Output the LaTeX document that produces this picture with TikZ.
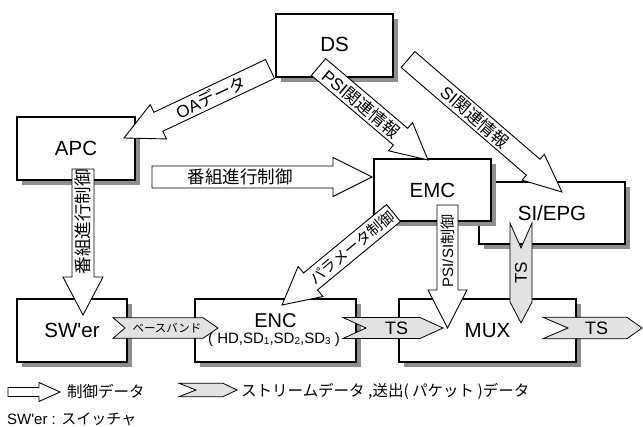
\documentclass[tikz,border=0pt]{standalone}
\usepackage{fontspec}
\setmainfont{Liberation Sans}[Ligatures=TeXOff]
\newfontfamily\jp{Noto Sans CJK JP}
\usetikzlibrary{calc,shadows}
\definecolor{shadowgray}{HTML}{8E8E8E}
\definecolor{streamgray}{HTML}{E2E2E2}
\newcommand\fs[1]{\fontsize{#1}{#1}\selectfont}
% block (hollow) arrow: tail, tip, shaft half, head half, head length
\newcommand\blockarr[5]{%
  \coordinate (hb) at ($(#2)!#5!(#1)$);
  \draw[ctrl] ($(#1)!#3!90:(#2)$) -- ($(hb)!#3!90:(#2)$) -- ($(hb)!#4!90:(#2)$) -- (#2)
    -- ($(hb)!#4!-90:(#2)$) -- ($(hb)!#3!-90:(#2)$) -- ($(#1)!#3!-90:(#2)$) -- cycle;}
% horizontal stream arrow: y, half height, tail x, notch x, head x, tip x
\newcommand\strmH[6]{%
  \draw[strm] (#3,#1-#2) -- (#5,#1-#2) -- (#6,#1) -- (#5,#1+#2) -- (#3,#1+#2) -- (#4,#1) -- cycle;}
\begin{document}
\begin{tikzpicture}[x=1pt,y=-1pt,
  box/.style={draw=black, line width=1.4pt, fill=white, inner sep=0pt,
    drop shadow={shadow xshift=5pt, shadow yshift=-5pt, fill=shadowgray, opacity=1},
    font=\fs{20.5}},
  ctrl/.style={draw=black, line width=0.9pt, fill=white, line join=miter},
  strm/.style={draw=black, line width=0.8pt, fill=streamgray, line join=miter},
  lbl/.style={inner sep=0pt}]
\useasboundingbox (0,0) rectangle (643,427);

% boxes
\node[box, minimum width=146pt, minimum height=62pt] (SIEPG) at (552,213) {SI/EPG};
\node[box, minimum width=117pt, minimum height=62pt] (EMC) at (432.5,190) {EMC};
\node[box, minimum width=117pt, minimum height=63pt] (DS) at (334.5,45.5) {\raisebox{3pt}{DS}};
\node[box, minimum width=118pt, minimum height=63pt] (APC) at (76,148.5) {APC};
\node[box, minimum width=110pt, minimum height=63pt] (SWer) at (72,330.5) {SW'er};
\node[box, minimum width=161pt, minimum height=63pt] (ENC) at (275.5,330.5) {};
\node[box, minimum width=177pt, minimum height=63pt] (MUX) at (487.5,330.5) {MUX};
\node[lbl, font=\fs{20}] (enclbl) at (275.5,320.5) {ENC};
\node[lbl, font=\fs{15}] (encsub) at (274,339.5) {( HD,SD\raisebox{-1pt}{\fs{10}1},SD\raisebox{-1pt}{\fs{10}2},SD\raisebox{-1pt}{\fs{10}3} )};

% control arrows
\coordinate (oaT) at (270,69);   \coordinate (oaP) at (124,138);
\coordinate (bhT) at (152,177);  \coordinate (bhP) at (372,177);
\coordinate (bvT) at (83,169);   \coordinate (bvP) at (83,315);
\coordinate (psT) at (318.5,67); \coordinate (psP) at (428,160);
\coordinate (siT) at (408,59.5); \coordinate (siP) at (562,192);
\coordinate (paT) at (393.5,213);\coordinate (paP) at (282,305);
\coordinate (pcT) at (447.5,205);\coordinate (pcP) at (447.5,328);

\blockarr{oaT}{oaP}{10.5pt}{19pt}{38pt}
\blockarr{bhT}{bhP}{11pt}{19.5pt}{39pt}
\blockarr{bvT}{bvP}{11pt}{20pt}{38pt}
\blockarr{psT}{psP}{11pt}{18.5pt}{36pt}
\blockarr{siT}{siP}{10.5pt}{17pt}{38pt}
\blockarr{paT}{paP}{11pt}{19.5pt}{37pt}
\blockarr{pcT}{pcP}{10.5pt}{19.5pt}{38pt}

\node[lbl, rotate=25.3, font=\fs{17}] (oatxt) at (211,97) {OA{\jp データ}};
\node[lbl, font=\fs{17.5}\jp] (bhtxt) at (240,177) {番組進行制御};
\node[lbl, rotate=90, font=\fs{17.5}\jp] (bvtxt) at (83,222) {番組進行制御};
\node[lbl, rotate=-40.3, font=\fs{17}] (pstxt) at (361,104) {PSI{\jp 関連情報}};
\node[lbl, rotate=-40.7, font=\fs{17}] (sitxt) at (475,117) {SI{\jp 関連情報}};
\node[lbl, rotate=39.5, font=\fs{15}\jp] (patxt) at (352,247.5) {パラメータ制御};
\node[lbl, rotate=90, font=\fs{15}] (pctxt) at (447.5,251) {PSI/SI{\jp 制御}};

% stream arrows
\strmH{328}{10.3}{113}{125}{203}{218}
\strmH{328}{10.5}{343}{366}{420}{443}
\strmH{328}{10.7}{543}{568}{627}{642}
\draw[strm] (510,223) -- (521,248) -- (532,223) -- (532,302) -- (521,323) -- (510,302) -- cycle;
\node[lbl, font=\fs{11.5}\jp] (bbtxt) at (167,328) {ベースバンド};
\node[lbl, font=\fs{18}] (ts1) at (396.5,328) {TS};
\node[lbl, font=\fs{18}] (ts2) at (596.5,328) {TS};
\node[lbl, rotate=90, font=\fs{17}] (ts3) at (521,273) {TS};

% legend
\coordinate (lgT) at (8,392); \coordinate (lgP) at (60,392);
\blockarr{lgT}{lgP}{4.5pt}{9.5pt}{21pt}
\node[lbl, anchor=west, font=\fs{15.5}\jp] (lg1) at (67,392) {制御データ};
\strmH{390}{6.7}{179}{196}{223}{237}
\node[lbl, anchor=west, font=\fs{15.5}\jp] (lg2) at (241,391) {ストリームデータ ,送出( パケット )データ};
\node[lbl, anchor=west, font=\fs{15}] (lg3) at (7,419) {SW'er : {\jp スイッチャ}};
\end{tikzpicture}
\end{document}
